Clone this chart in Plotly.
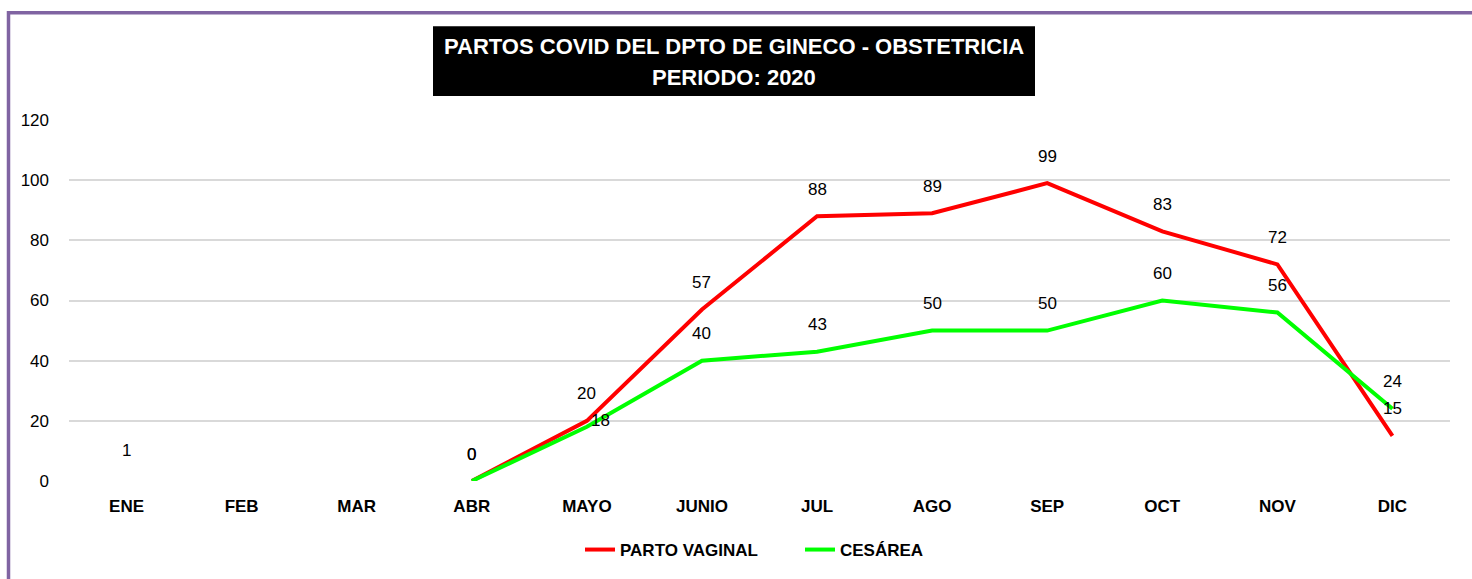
import plotly.graph_objects as go

months = ["ENE", "FEB", "MAR", "ABR", "MAYO", "JUNIO", "JUL", "AGO", "SEP", "OCT", "NOV", "DIC"]
parto_vaginal = [1, None, None, 0, 20, 57, 88, 89, 99, 83, 72, 15]
cesarea = [None, None, None, 0, 18, 40, 43, 50, 50, 60, 56, 24]
y_ticks = [0, 20, 40, 60, 80, 100, 120]

FONT = "Liberation Sans, Arial, sans-serif"

W, H = 1472, 579
L, T = 69, 120
pw, ph = 1450 - 69, 482 - 120
R = W - L - pw
B = H - T - ph


def px(x):
    return (x - 69) / pw


def py(y):
    return (482 - y) / ph


fig = go.Figure()
fig.add_trace(go.Scatter(x=months, y=parto_vaginal, mode="lines", name="PARTO VAGINAL",
                         line=dict(color="#FF0000", width=4), connectgaps=False))
fig.add_trace(go.Scatter(x=months, y=cesarea, mode="lines", name="CESÁREA",
                         line=dict(color="#00FF00", width=4), connectgaps=False))

LBL = dict(family=FONT, size=17, color="#000000")
annotations = []
for m, v in zip(months, parto_vaginal):
    if v is None:
        continue
    annotations.append(dict(x=m, y=v, xref="x", yref="y", text=str(v), showarrow=False,
                            yshift=27, font=LBL))
for m, v in zip(months, cesarea):
    if v is None:
        continue
    if m == "MAYO":
        annotations.append(dict(x=m, y=v, xref="x", yref="y", text=str(v), showarrow=False,
                                xshift=14, yshift=6, font=LBL))
    else:
        annotations.append(dict(x=m, y=v, xref="x", yref="y", text=str(v), showarrow=False,
                                yshift=27, font=LBL))

TITLE = dict(family=FONT, size=22, color="#FFFFFF")
annotations.append(dict(x=px(734), y=py(46), xref="paper", yref="paper", showarrow=False,
                        text="<b>PARTOS COVID DEL DPTO DE GINECO - OBSTETRICIA</b>",
                        xanchor="center", yanchor="middle", font=TITLE))
annotations.append(dict(x=px(734), y=py(77), xref="paper", yref="paper", showarrow=False,
                        text="<b>PERIODO: 2020</b>",
                        xanchor="center", yanchor="middle", font=TITLE))

shapes = [
    dict(type="rect", xref="paper", yref="paper", x0=px(433), x1=px(1035), y0=py(96), y1=py(26),
         fillcolor="#000000", line=dict(width=0), layer="below"),
    dict(type="rect", xref="paper", yref="paper", x0=px(8.5), x1=px(1500), y0=py(610), y1=py(12.5),
         fillcolor="rgba(0,0,0,0)", line=dict(color="#8064A2", width=3.5), layer="above"),
]

fig.update_layout(
    width=W, height=H,
    margin=dict(l=L, r=R, t=T, b=B),
    paper_bgcolor="#FFFFFF", plot_bgcolor="#FFFFFF",
    showlegend=True,
    legend=dict(orientation="h", x=px(580), y=py(550), xanchor="left", yanchor="middle",
                font=dict(family=FONT, size=17, color="#000000", weight="bold"),
                entrywidth=175, entrywidthmode="pixels",
                bgcolor="rgba(0,0,0,0)"),
    annotations=annotations,
    shapes=shapes,
    xaxis=dict(type="category", categoryorder="array", categoryarray=months,
               range=[-0.5, 11.5], showgrid=False, showline=False, zeroline=False,
               ticks="", ticklabelstandoff=13,
               tickfont=dict(family=FONT, size=17, color="#000000", weight="bold")),
    yaxis=dict(range=[0, 120], tickvals=y_ticks, showgrid=True, gridcolor="#D9D9D9",
               gridwidth=1.5, zeroline=False, showline=False, ticks="",
               tickfont=dict(family=FONT, size=17, color="#000000"), ticklabelstandoff=19),
)

fig.write_html("out.html", config={"displayModeBar": False},
               post_script="document.body.style.margin='0';document.body.style.overflow='hidden';")
